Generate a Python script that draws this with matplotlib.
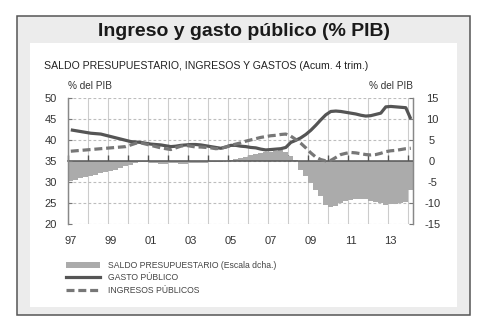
import matplotlib
matplotlib.use("Agg")
import matplotlib.pyplot as plt
from matplotlib.patches import Rectangle
from matplotlib.lines import Line2D
from matplotlib.patches import Patch
import numpy as np

# Quarterly series, 1997Q1 .. 2014Q1
start_year = 1997
gasto = [
    42.5, 42.3, 42.1, 41.9,
    41.7, 41.6, 41.5, 41.2,
    40.9, 40.6, 40.3, 40.0,
    39.7, 39.6, 39.5, 39.3,
    39.1, 39.0, 38.9, 38.7,
    38.5, 38.6, 38.8, 38.9,
    39.0, 39.0, 38.9, 38.7,
    38.5, 38.3, 38.1, 38.4,
    38.8, 38.8, 38.6, 38.5,
    38.3, 38.2, 37.9, 37.7,
    37.8, 37.9, 38.0, 38.3,
    39.5, 40.0, 40.6, 41.4,
    42.4, 43.6, 44.9, 46.1,
    46.9, 47.0, 46.9, 46.7,
    46.5, 46.3, 46.0, 45.8,
    45.9, 46.2, 46.5, 48.0,
    48.1, 48.0, 47.9, 47.8,
    45.1,
]
ingresos = [
    37.4, 37.5, 37.6, 37.7,
    37.8, 37.9, 38.0, 38.1,
    38.2, 38.3, 38.4, 38.5,
    38.9, 39.3, 39.4, 39.1,
    38.8, 38.5, 38.2, 38.0,
    37.8, 38.2, 38.6, 38.8,
    38.6, 38.4, 38.4, 38.3,
    38.2, 38.0, 38.1, 38.4,
    38.8, 39.1, 39.4, 39.8,
    40.1, 40.4, 40.7, 40.9,
    41.1, 41.2, 41.4, 41.5,
    41.0, 40.2, 39.3, 38.2,
    37.0, 36.0, 35.4, 35.1,
    35.2, 35.9, 36.6, 36.9,
    37.1, 37.0, 36.8, 36.6,
    36.5, 36.6, 36.9, 37.3,
    37.5, 37.6, 37.8, 38.0,
    38.1,
]
saldo = [
    -4.8, -4.4, -4.1, -3.8,
    -3.5, -3.2, -2.9, -2.6,
    -2.3, -2.0, -1.6, -1.2,
    -0.9, -0.5, -0.2, -0.2,
    -0.4, -0.5, -0.6, -0.6,
    -0.5, -0.4, -0.6, -0.7,
    -0.5, -0.4, -0.3, -0.3,
    -0.2, -0.2, -0.1, 0.0,
    0.3, 0.5, 0.8, 1.1,
    1.5, 1.8, 2.0, 2.2,
    2.3, 2.5, 2.8, 2.2,
    1.2, 0.3, -2.0, -3.6,
    -5.2, -6.8, -8.4, -10.4,
    -11.0, -10.8, -9.9, -9.6,
    -9.2, -9.1, -9.1, -9.0,
    -9.6, -9.8, -9.9, -10.4,
    -10.2, -10.1, -9.9, -9.8,
    -6.8,
]
label_years = list(range(1997, 2014, 2))
left_ticks = [20, 25, 30, 35, 40, 45, 50]
right_ticks = [-15, -10, -5, 0, 5, 10, 15]

title = "Ingreso y gasto público (% PIB)"
subtitle = "SALDO PRESUPUESTARIO, INGRESOS Y GASTOS (Acum. 4 trim.)"
unit = "% del PIB"
legend_labels = ["SALDO PRESUPUESTARIO (Escala dcha.)", "GASTO PÚBLICO", "INGRESOS PÚBLICOS"]

W, H = 488, 333
fig = plt.figure(figsize=(W / 100, H / 100), dpi=100)
fig.patch.set_facecolor("white")


def fx(x):
    return x / W


def fy(y):
    return 1 - y / H


# outer grey frame and inner white panel
fig.patches.append(Rectangle((fx(17), fy(315)), fx(470) - fx(17), fy(16) - fy(315),
                             transform=fig.transFigure, facecolor="#ececec",
                             edgecolor="#555555", linewidth=1.1, zorder=0))
fig.patches.append(Rectangle((fx(30), fy(307)), fx(457) - fx(30), fy(43) - fy(307),
                             transform=fig.transFigure, facecolor="white",
                             edgecolor="none", zorder=0.5))

fig.text(fx(243.5), fy(31), title, ha="center", va="center", fontsize=14,
         fontweight="bold", color="#1a1a1a", family="Liberation Sans")
fig.text(fx(44), fy(66), subtitle, ha="left", va="center", fontsize=7.6,
         color="#222222", family="Liberation Sans")
fig.text(fx(68), fy(86), unit, ha="left", va="center", fontsize=7.2,
         color="#333333", family="Liberation Sans")
fig.text(fx(413), fy(86), unit, ha="right", va="center", fontsize=7.2,
         color="#333333", family="Liberation Sans")

n = len(gasto)
qx = start_year + 0.25 * np.arange(n)

ax = fig.add_axes([fx(68.3), fy(224), fx(412.7) - fx(68.3), fy(98.5) - fy(224)])
ax2 = ax.twinx()
ax.set_zorder(2)
ax2.set_zorder(1)
ax.patch.set_visible(False)
ax2.patch.set_visible(False)

xmax = start_year + 0.25 * n
ax.set_xlim(start_year, xmax - 0.03)
ax.set_ylim(20, 50)
ax2.set_ylim(-15, 15)

# bars of the budget balance on the right scale
ax2.bar(qx, saldo, width=0.25, align="edge", color="#ababab", linewidth=0, zorder=2)

# grid on the lower axes, behind the bars
ax2.set_yticks(right_ticks, [str(v) for v in right_ticks], ha="center")
ax2.grid(axis="y", color="#bdbdbd", linestyle=(0, (2.5, 2)), linewidth=0.8)
ax2.set_axisbelow(True)
ax2.tick_params(axis="y", direction="in", length=3, color="#777777", pad=14,
                labelsize=8, labelcolor="#333333")

# year ticks and vertical grid; the x axis line of the lower axes sits at zero
ax2.xaxis.set_visible(True)
ax2.set_xticks(np.arange(1997, 2015), minor=True)
ax2.grid(axis="x", which="minor", color="#cccccc", linestyle="-", linewidth=0.8)
ax2.tick_params(axis="x", which="minor", direction="in", length=4, width=1,
                color="#555555", labelbottom=False)
ax2.tick_params(axis="x", which="major", length=0, labelbottom=False)
ax2.spines["bottom"].set_position(("data", 0))
ax2.spines["bottom"].set_color("#555555")
ax2.spines["bottom"].set_linewidth(1.1)
ax2.spines["bottom"].set_zorder(3)

# expenditure and revenue lines on the left scale
dash = (0, (2.5, 1.2))
ax.plot(qx + 0.125, gasto, color="#555555", linewidth=2.3, solid_capstyle="butt", zorder=4)
ax.plot(qx + 0.125, ingresos, color="#777777", linewidth=2.3, linestyle=dash,
        dash_capstyle="butt", zorder=4)

ax.set_yticks(left_ticks)
ax.tick_params(axis="y", direction="in", length=3, color="#777777", pad=8,
               labelsize=8, labelcolor="#333333")
ax.set_xticks([y + 0.125 for y in label_years], [f"{y % 100:02d}" for y in label_years])
ax.tick_params(axis="x", which="major", length=0, pad=9, labelsize=8, labelcolor="#333333")
ax.tick_params(axis="x", which="minor", length=0)
ax.grid(False)

for a in (ax, ax2):
    a.spines["top"].set_visible(False)
    a.spines["left"].set_color("#888888")
    a.spines["right"].set_color("#888888")
    a.spines["left"].set_linewidth(0.9)
    a.spines["right"].set_linewidth(0.9)
ax.spines["bottom"].set_visible(False)

for t in ax.get_yticklabels() + ax2.get_yticklabels() + ax.get_xticklabels():
    t.set_family("Liberation Sans")

handles = [
    Patch(facecolor="#ababab", edgecolor="none"),
    Line2D([], [], color="#555555", linewidth=2.3),
    Line2D([], [], color="#777777", linewidth=2.3, linestyle=dash),
]
fig.legend(handles, legend_labels, loc="upper left", bbox_to_anchor=(fx(66), fy(261)),
           frameon=False,
           prop={"family": "Liberation Sans", "size": 6.2},
           handlelength=4.0, handleheight=0.6, handletextpad=0.9, labelspacing=0.38,
           borderaxespad=0, borderpad=0, labelcolor="#444444")

fig.savefig("out.png", dpi=100)
